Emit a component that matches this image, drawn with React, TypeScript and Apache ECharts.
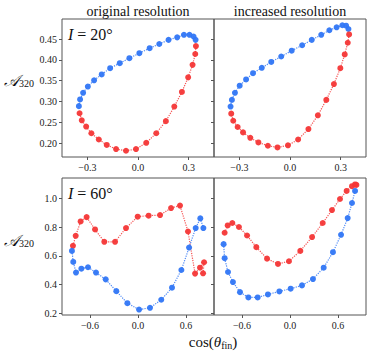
import React, { useEffect, useRef } from "react";
import * as echarts from "echarts";

const topXTicks = [-0.3, 0, 0.3];
const topYTicks = [0.2, 0.25, 0.3, 0.35, 0.4, 0.45];
const botXTicks = [-0.6, 0, 0.6];
const botYTicks = [0.2, 0.4, 0.6, 0.8, 1.0];
const panelTitles = ["original resolution", "increased resolution"];
const inclinations = ["20°", "60°"];

// I = 20°, original resolution
const i20OrigBlue = [
  [-0.35, 0.289], [-0.343, 0.305], [-0.325, 0.321], [-0.297, 0.336], [-0.26, 0.351],
  [-0.215, 0.365], [-0.165, 0.38], [-0.108, 0.392], [-0.051, 0.404], [0.008, 0.416],
  [0.069, 0.428], [0.126, 0.438], [0.181, 0.448], [0.232, 0.454], [0.272, 0.46],
  [0.305, 0.46], [0.329, 0.456], [0.341, 0.448],
];
const i20OrigRed = [
  [0.343, 0.433], [0.339, 0.414], [0.323, 0.388], [0.297, 0.358], [0.26, 0.323],
  [0.215, 0.288], [0.165, 0.253], [0.108, 0.224], [0.049, 0.201], [-0.012, 0.186],
  [-0.071, 0.182], [-0.13, 0.186], [-0.185, 0.196], [-0.232, 0.209], [-0.276, 0.224],
  [-0.307, 0.24], [-0.333, 0.255], [-0.346, 0.272],
];
// I = 20°, increased resolution
const i20IncBlue = [
  [-0.352, 0.288], [-0.344, 0.304], [-0.326, 0.321], [-0.298, 0.338], [-0.26, 0.353],
  [-0.219, 0.368], [-0.167, 0.381], [-0.111, 0.395], [-0.052, 0.408], [0.01, 0.422],
  [0.072, 0.435], [0.129, 0.448], [0.185, 0.46], [0.233, 0.471], [0.276, 0.478],
  [0.31, 0.483], [0.332, 0.482], [0.346, 0.474],
];
const i20IncRed = [
  [0.35, 0.461], [0.342, 0.441], [0.324, 0.413], [0.298, 0.38], [0.26, 0.342],
  [0.215, 0.304], [0.165, 0.267], [0.109, 0.234], [0.048, 0.209], [-0.012, 0.195],
  [-0.074, 0.19], [-0.131, 0.194], [-0.187, 0.202], [-0.235, 0.213], [-0.278, 0.226],
  [-0.31, 0.239], [-0.336, 0.254], [-0.348, 0.271],
];
// I = 60°, original resolution
const i60OrigRed = [
  [-0.813, 0.669], [-0.779, 0.739], [-0.717, 0.839], [-0.642, 0.869], [-0.537, 0.783],
  [-0.421, 0.697], [-0.287, 0.697], [-0.15, 0.793], [-0.004, 0.872], [0.133, 0.879],
  [0.276, 0.883], [0.413, 0.932], [0.525, 0.949], [0.625, 0.769], [0.713, 0.476],
  [0.775, 0.517], [0.826, 0.555], [0.813, 0.478],
];
const i60OrigBlue = [
  [-0.826, 0.634], [-0.809, 0.557], [-0.775, 0.483], [-0.708, 0.51], [-0.625, 0.52],
  [-0.525, 0.483], [-0.404, 0.436], [-0.271, 0.354], [-0.133, 0.27], [0.013, 0.226],
  [0.15, 0.238], [0.291, 0.294], [0.425, 0.378], [0.542, 0.501], [0.638, 0.657],
  [0.721, 0.793], [0.779, 0.86], [0.817, 0.793],
];
// I = 60°, increased resolution
const i60IncRed = [
  [-0.817, 0.76], [-0.779, 0.811], [-0.721, 0.828], [-0.638, 0.8], [-0.537, 0.741],
  [-0.421, 0.66], [-0.287, 0.58], [-0.15, 0.543], [-0.013, 0.562], [0.129, 0.634],
  [0.276, 0.73], [0.409, 0.828], [0.525, 0.918], [0.625, 0.995], [0.708, 1.051],
  [0.775, 1.084], [0.813, 1.096], [0.83, 1.093],
];
const i60IncBlue = [
  [-0.83, 0.681], [-0.817, 0.583], [-0.775, 0.487], [-0.713, 0.417], [-0.625, 0.347],
  [-0.52, 0.31], [-0.404, 0.31], [-0.276, 0.331], [-0.133, 0.352], [0.008, 0.371],
  [0.15, 0.394], [0.287, 0.438], [0.421, 0.517], [0.537, 0.625], [0.638, 0.746],
  [0.721, 0.862], [0.775, 0.967], [0.813, 1.051],
];

const BLUE = "#3076f5";
const RED = "#f43636";
const FONT = "Liberation Serif";
const FRAME = "#555555";

function fmt(v: number, d: number) {
  const s = Math.abs(v).toFixed(d);
  return (v < 0 ? "\u2212" : "") + s;
}

export default function App() {
  const ref = useRef<HTMLDivElement>(null);
  useEffect(() => {
    if (!ref.current) return;
    const chart = echarts.init(ref.current, undefined, { renderer: "svg" });
    const grids = [
      { left: 62, top: 19, width: 152, height: 138 },
      { left: 214, top: 19, width: 152, height: 138 },
      { left: 62, top: 178, width: 152, height: 137 },
      { left: 214, top: 178, width: 152, height: 137 },
    ].map((g) => ({ ...g, show: true, borderColor: FRAME, borderWidth: 1, backgroundColor: "transparent" }));

    const xAxis = [0, 1, 2, 3].map((i) => {
      const top = i < 2;
      const ticks = top ? topXTicks : botXTicks;
      return {
        type: "value",
        gridIndex: i,
        position: "bottom",
        min: top ? -0.45 : -0.95,
        max: top ? 0.45 : 0.95,
        axisLine: { show: false, onZero: false },
        splitLine: { show: false },
        axisTick: { show: true, inside: false, length: 3, lineStyle: { color: FRAME }, customValues: ticks },
        axisLabel: {
          show: true,
          margin: 5,
          fontFamily: FONT,
          fontSize: 10,
          color: "#222",
          customValues: ticks,
          formatter: (v: number) => fmt(v, 1),
        },
      };
    });
    const yAxis = [0, 1, 2, 3].map((i) => {
      const top = i < 2;
      const ticks = top ? topYTicks : botYTicks;
      return {
        type: "value",
        gridIndex: i,
        position: "left",
        min: top ? 0.167 : 0.188,
        max: top ? 0.498 : 1.141,
        axisLine: { show: false, onZero: false },
        splitLine: { show: false },
        axisTick: { show: true, inside: false, length: 3, lineStyle: { color: FRAME }, customValues: ticks },
        axisLabel: {
          show: i % 2 === 0,
          margin: 5,
          fontFamily: FONT,
          fontSize: 10,
          color: "#222",
          customValues: ticks,
          formatter: (v: number) => fmt(v, top ? 2 : 1),
        },
      };
    });

    const mk = (data: number[][], idx: number, color: string) => ({
      type: "line",
      xAxisIndex: idx,
      yAxisIndex: idx,
      data,
      symbol: "circle",
      symbolSize: 6,
      showSymbol: true,
      itemStyle: { color, opacity: 0.95 },
      lineStyle: { color, width: 1.2, type: "dotted", opacity: 0.85 },
      silent: true,
    });

    const series = [
      mk(i20OrigBlue, 0, BLUE), mk(i20OrigRed, 0, RED),
      mk(i20IncBlue, 1, BLUE), mk(i20IncRed, 1, RED),
      mk(i60OrigRed, 2, RED), mk(i60OrigBlue, 2, BLUE),
      mk(i60IncRed, 3, RED), mk(i60IncBlue, 3, BLUE),
    ];

    const ylab = (y: number) => ({
      type: "text",
      x: 19,
      y,
      style: {
        text: "{a|𝒜}{s|320}",
        align: "center",
        verticalAlign: "middle",
        rich: {
          a: { fontFamily: "DejaVu Serif", fontSize: 16, fill: "#111", fontStyle: "italic" },
          s: { fontFamily: FONT, fontSize: 10, fill: "#111", verticalAlign: "bottom", padding: [6, 0, 0, 0] },
        },
      },
    });
    const incl = (y: number, t: string) => ({
      type: "text",
      x: 68,
      y,
      style: {
        text: "{i|I} = " + t,
        verticalAlign: "middle",
        font: `16px ${FONT}`,
        fill: "#111",
        rich: { i: { fontFamily: FONT, fontSize: 16, fontStyle: "italic", fill: "#111" } },
      },
    });

    chart.setOption({
      animation: false,
      grid: grids,
      xAxis,
      yAxis,
      series,
      graphic: [
        { type: "text", x: 138, y: 11, style: { text: panelTitles[0], align: "center", verticalAlign: "middle", font: `14px ${FONT}`, fill: "#111" } },
        { type: "text", x: 290, y: 11, style: { text: panelTitles[1], align: "center", verticalAlign: "middle", font: `14px ${FONT}`, fill: "#111" } },
        ylab(80),
        ylab(240),
        incl(34, inclinations[0]),
        incl(193, inclinations[1]),
        {
          type: "text",
          x: 213,
          y: 342,
          style: {
            text: "cos({t|θ}{s|fin})",
            align: "center",
            verticalAlign: "middle",
            font: `15px ${FONT}`,
            fill: "#111",
            rich: {
              t: { fontFamily: FONT, fontSize: 15, fontStyle: "italic", fill: "#111" },
              s: { fontFamily: FONT, fontSize: 10, fill: "#111", verticalAlign: "bottom", padding: [6, 0, 0, 0] },
            },
          },
        },
      ],
    });
    return () => chart.dispose();
  }, []);
  return <div ref={ref} style={{ position: "absolute", left: 0, top: 0, width: 374, height: 357 }} />;
}
